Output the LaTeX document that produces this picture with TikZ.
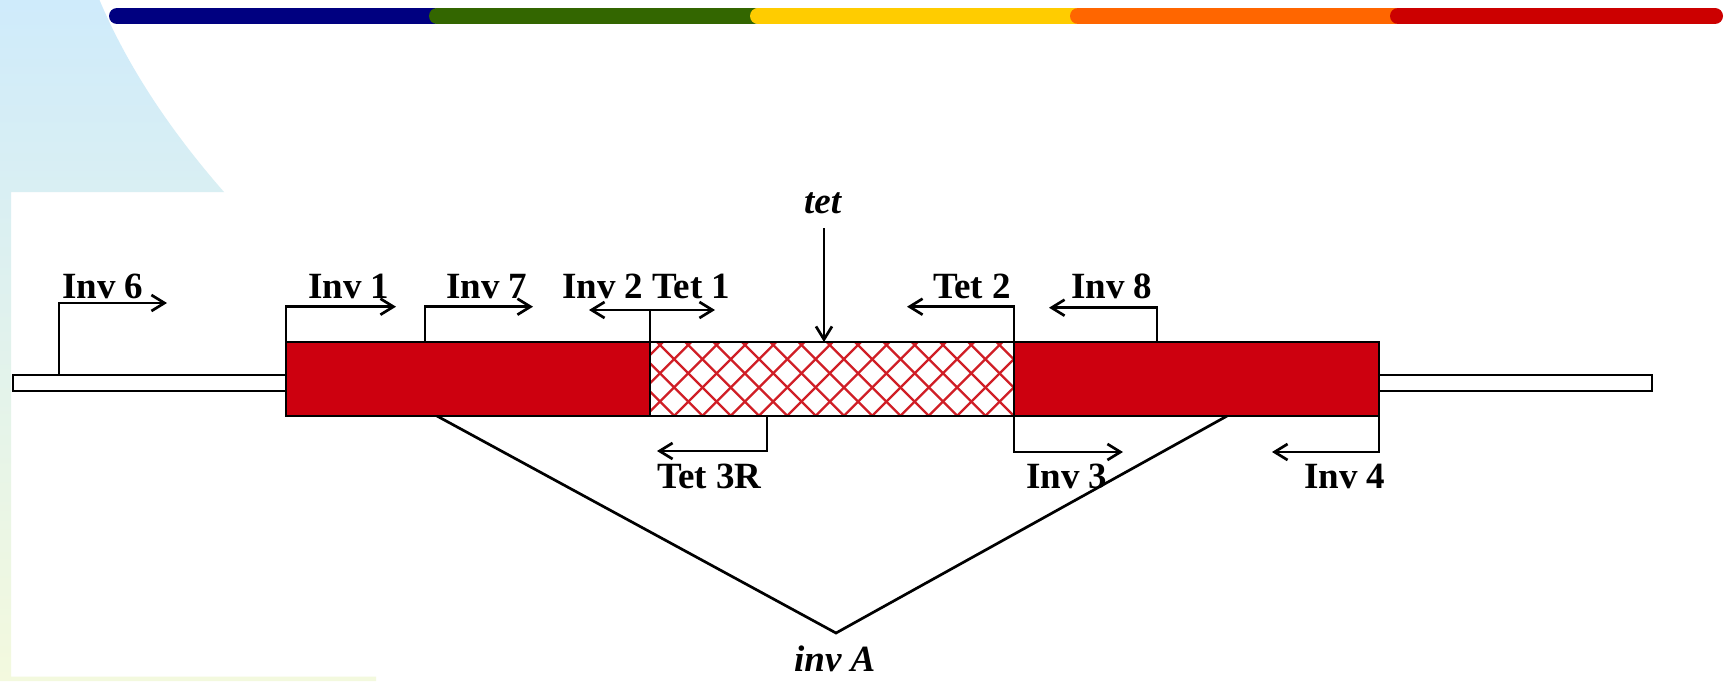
\documentclass[tikz,border=0pt]{standalone}
\usepackage{fontspec}
\setmainfont{Liberation Serif}
\usetikzlibrary{arrows.meta}
\definecolor{boxred}{RGB}{205,0,15}
\definecolor{hatchred}{RGB}{208,30,38}
\definecolor{bgtop}{RGB}{207,235,251}
\definecolor{bgbot}{RGB}{243,249,222}
\definecolor{barblue}{RGB}{0,0,128}
\definecolor{bargreen}{RGB}{51,102,0}
\definecolor{baryellow}{RGB}{255,204,0}
\definecolor{barorange}{RGB}{255,102,0}
\definecolor{barred}{RGB}{204,0,0}
\begin{document}
\begin{tikzpicture}[x=1pt,y=-1pt,
  lbl/.style={anchor=base west,inner sep=0pt,font=\fontsize{37}{40}\selectfont\bfseries},
  ilbl/.style={anchor=base west,inner sep=0pt,font=\fontsize{37}{40}\selectfont\bfseries\itshape},
  primer/.style={line width=2.7pt,-{Straight Barb[length=13pt,width=16pt]}},
  primerboth/.style={line width=2.7pt,{Straight Barb[length=13pt,width=16pt]}-{Straight Barb[length=13pt,width=16pt]}},
  rod/.style={rectangle,draw=black,fill=white,line width=2.5pt,minimum width=273pt,minimum height=16pt,inner sep=0pt,outer sep=0pt},
  gene/.style={rectangle,draw=black,fill=boxred,line width=2.8pt,minimum width=364pt,minimum height=74pt,inner sep=0pt,outer sep=0pt},
  hatchbox/.style={rectangle,fill=white,minimum width=364pt,minimum height=74pt,inner sep=0pt,outer sep=0pt},
  hatchline/.style={draw=hatchred,line width=2.3pt},
  bar/.style={line width=16pt,line cap=round},
  link/.style={line width=2.7pt}
]
\useasboundingbox (0,0) rectangle (1733,681);
\fill[white] (0,0) rectangle (1733,681);
% background template
\shade[top color=bgtop,bottom color=bgbot]
  (0,0) -- (99.5,0) .. controls (126.5,64) and (168,128) .. (224,192)
  -- (11,192) -- (11,676.7) -- (376,676.7) -- (376,681) -- (0,681) -- cycle;
% top colour bar
\draw[bar,barblue] (117,16) -- (434,16);
\draw[bar,bargreen] (437,16) -- (754,16);
\draw[bar,baryellow] (758,16) -- (1075,16);
\draw[bar,barorange] (1078,16) -- (1395,16);
\draw[bar,barred] (1398,16) -- (1715,16);

% gene map
\node[rod] (rodL) at (149.5,383) {};
\node[rod] (rodR) at (1515.5,383) {};
\node[gene] (g1) at (468,379) {};
\node[gene,minimum width=365pt] (g2) at (1196.5,379) {};
\node[hatchbox] (tet) at (832,379) {};
\begin{scope}
  \clip (tet.north west) rectangle (tet.south east);
  \foreach \k in {-4,...,14} {
    \draw[hatchline] ({315+28.3*\k+330},330) -- ({315+28.3*\k+430},430);
    \draw[hatchline] ({1005+28.3*\k-330},330) -- ({1005+28.3*\k-430},430);
  }
\end{scope}
\draw[line width=2.8pt] (tet.north west) rectangle (tet.south east);

% coordinates
\coordinate (p6a) at (59,375);   \coordinate (p6b) at (167,303);
\coordinate (p1b) at (396,306.7);
\coordinate (p7a) at (425,342);  \coordinate (p7b) at (533,306.7);
\coordinate (p2c) at (650,310);  \coordinate (p2l) at (589,310); \coordinate (p2r) at (715,310);
\coordinate (ptt) at (824,228);
\coordinate (pt2b) at (907,306.7);
\coordinate (p8a) at (1157,342); \coordinate (p8b) at (1049,307.7);
\coordinate (p3ra) at (767,416); \coordinate (p3rb) at (657,451);
\coordinate (p3b) at (1123,452);
\coordinate (p4b) at (1272,452);
\coordinate (la) at (437,416); \coordinate (apex) at (836,633); \coordinate (ra) at (1227,416);

% primers
\draw[primer] (p6a) |- (p6b);
\draw[primer] (g1.north west) |- (p1b);
\draw[primer] (p7a) |- (p7b);
\draw[link] (tet.north west) -- (p2c);
\draw[primerboth] (p2l) -- (p2r);
\draw[primer] (ptt) -- (ptt |- tet.north);
\draw[primer] (tet.north east) |- (pt2b);
\draw[primer] (p8a) |- (p8b);
\draw[primer] (p3ra) |- (p3rb);
\draw[primer] (tet.south east) |- (p3b);
\draw[primer] (g2.south east) |- (p4b);
\draw[link] (la) -- (apex) -- (ra);

% labels
\node[lbl] (l6) at (62,298) {Inv 6};
\node[lbl] (l1) at (308,298) {Inv 1};
\node[lbl] (l7) at (446,298) {Inv 7};
\node[lbl] (l2) at (562,298) {Inv 2 Tet 1};
\node[ilbl] (ltet) at (804,213) {tet};
\node[lbl] (lt2) at (933,298) {Tet 2};
\node[lbl] (l8) at (1071,298) {Inv 8};
\node[lbl] (lt3) at (657,488) {Tet 3R};
\node[lbl] (l3) at (1026,488) {Inv 3};
\node[lbl] (l4) at (1304,488) {Inv 4};
\node[ilbl] (linv) at (794,671) {inv A};
\end{tikzpicture}
\end{document}
